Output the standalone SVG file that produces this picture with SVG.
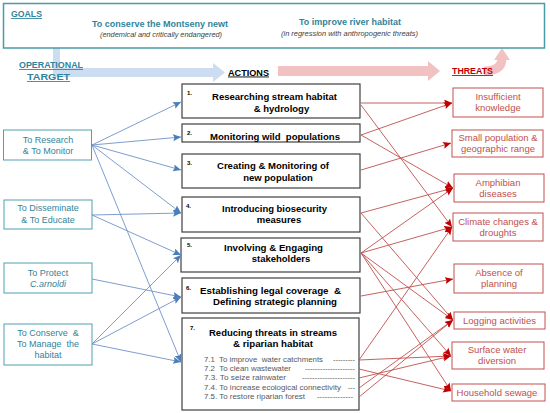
<svg xmlns="http://www.w3.org/2000/svg" width="550" height="413" viewBox="0 0 550 413">
<defs>
<style>
text{font-family:"Liberation Sans",Arial,sans-serif}
.teal{fill:#31849b}
.hd{font-weight:bold;text-decoration:underline}
.sub{font-style:italic;font-size:7px;fill:#404040}
.obox{fill:#fff;stroke:#4f9fb0;stroke-width:1}
.otxt{font-size:9px;fill:#31859c;text-anchor:middle}
.abox{fill:#fff;stroke:#404040;stroke-width:1.2}
.atxt{font-size:9.5px;font-weight:bold;fill:#000;text-anchor:middle}
.num{font-size:6px;font-weight:bold;fill:#000}
.item{font-size:7.5px;fill:#595959}
.tbox{fill:#fff;stroke:#c0504d;stroke-width:1}
.ttxt{font-size:9.5px;fill:#c0504d;text-anchor:middle}
.bl{stroke:#6f93c8;stroke-width:0.9;fill:none;marker-end:url(#ab)}
.rl{stroke:#c0504d;stroke-width:0.9;fill:none;marker-end:url(#ar)}
</style>
<marker id="ab" markerUnits="userSpaceOnUse" markerWidth="9" markerHeight="8" refX="8" refY="3.5" orient="auto"><path d="M0,0 L8,3.5 L0,7 L1.5,3.5 z" fill="#4a7ebb"/></marker>
<marker id="ar" markerUnits="userSpaceOnUse" markerWidth="9" markerHeight="8" refX="8" refY="3.5" orient="auto"><path d="M0,0 L8,3.5 L0,7 L1.5,3.5 z" fill="#c00000"/></marker>
</defs>
<rect width="550" height="413" fill="#fff"/>

<!-- big arrows -->
<g id="flow-arrows">
<polygon points="53,48 60,48 60,68 213,68 213,63 225,72.5 213,82 213,77 53,77" fill="#c6d9f1" opacity="0.9"/>
<polygon points="278,66 428,66 428,61 440,71 428,81 428,76 278,76" fill="#f2c2c2"/>
<path d="M484,71 Q502,71 502,58" stroke="#f2c2c2" stroke-width="9" fill="none"/>
<polygon points="494,60 502,48 510,60" fill="#f2c2c2"/>
</g>

<g id="goals">
<rect x="3.5" y="3.5" width="541" height="44.5" fill="none" stroke="#4a9aa8" stroke-width="1.5"/>
<text x="11" y="17" class="teal hd" font-size="8.7" textLength="31" lengthAdjust="spacingAndGlyphs">GOALS</text>
<text x="160" y="27" class="teal" font-size="9" font-weight="bold" text-anchor="middle" textLength="136" lengthAdjust="spacingAndGlyphs">To conserve the Montseny newt</text>
<text x="161" y="37" class="sub" text-anchor="middle" textLength="122" lengthAdjust="spacingAndGlyphs">(endemical and critically endangered)</text>
<text x="350" y="25" class="teal" font-size="9" font-weight="bold" text-anchor="middle" textLength="102" lengthAdjust="spacingAndGlyphs">To improve river habitat</text>
<text x="349.5" y="36" class="sub" text-anchor="middle" textLength="137" lengthAdjust="spacingAndGlyphs">(in regression with anthropogenic  threats)</text>
</g>

<g id="headers">
<text x="51" y="68" class="teal hd" font-size="8.8" text-anchor="middle" textLength="64" lengthAdjust="spacingAndGlyphs">OPERATIONAL</text>
<text x="48.5" y="80" class="teal hd" font-size="8.8" text-anchor="middle" textLength="43" lengthAdjust="spacingAndGlyphs">TARGET</text>
<text x="248.5" y="75.5" class="hd" font-size="9" fill="#000" text-anchor="middle" textLength="41" lengthAdjust="spacingAndGlyphs">ACTIONS</text>
<text x="472.5" y="74" class="hd" font-size="8.7" fill="#c00000" text-anchor="middle" textLength="41" lengthAdjust="spacingAndGlyphs">THREATS</text>
</g>

<!-- operational targets -->
<g id="target-research"><rect x="3.5" y="130" width="88" height="30" class="obox"/>
<text x="48" y="143" class="otxt">To Research</text><text x="48" y="154" class="otxt">&amp; To Monitor</text></g>
<g id="target-disseminate"><rect x="4" y="200" width="88" height="29" class="obox"/>
<text x="48" y="211" class="otxt">To Disseminate</text><text x="48" y="223" class="otxt">&amp; To Educate</text></g>
<g id="target-protect"><rect x="4" y="263" width="88" height="30" class="obox"/>
<text x="48" y="276" class="otxt">To Protect</text><text x="48" y="287" class="otxt" font-style="italic">C.arnoldi</text></g>
<g id="target-conserve"><rect x="4" y="324" width="88" height="41" class="obox"/>
<text x="48" y="336" class="otxt" xml:space="preserve">To Conserve  &amp;</text><text x="48" y="347" class="otxt" xml:space="preserve">To Manage  the</text><text x="48" y="358" class="otxt">habitat</text></g>

<!-- actions -->
<g id="action-1"><rect x="182" y="84" width="178" height="34" class="abox"/>
<text x="187" y="95" class="num">1.</text>
<text x="274.5" y="100" class="atxt" textLength="125" lengthAdjust="spacingAndGlyphs">Researching stream habitat</text>
<text x="281.5" y="111.5" class="atxt">&amp; hydrology</text></g>
<g id="action-2"><rect x="182" y="124" width="178" height="18" class="abox"/>
<text x="187" y="135" class="num">2.</text>
<text x="275" y="140" class="atxt" textLength="130" lengthAdjust="spacingAndGlyphs" xml:space="preserve">Monitoring wild  populations</text></g>
<g id="action-3"><rect x="182" y="154" width="178" height="34" class="abox"/>
<text x="187" y="165" class="num">3.</text>
<text x="273" y="169" class="atxt" textLength="112" lengthAdjust="spacingAndGlyphs">Creating &amp; Monitoring of</text>
<text x="278" y="181" class="atxt">new population</text></g>
<g id="action-4"><rect x="182" y="197" width="178" height="35" class="abox"/>
<text x="186" y="208" class="num">4.</text>
<text x="274.5" y="212" class="atxt" textLength="105" lengthAdjust="spacingAndGlyphs">Introducing biosecurity</text>
<text x="279" y="223" class="atxt">measures</text></g>
<g id="action-5"><rect x="181" y="238" width="179" height="34" class="abox"/>
<text x="187" y="247" class="num">5.</text>
<text x="273.5" y="251" class="atxt" textLength="99" lengthAdjust="spacingAndGlyphs">Involving &amp; Engaging</text>
<text x="281" y="262" class="atxt">stakeholders</text></g>
<g id="action-6"><rect x="182" y="278" width="178" height="35" class="abox"/>
<text x="186" y="290" class="num">6.</text>
<text x="270.5" y="293.5" class="atxt" font-size="9.8" textLength="141" lengthAdjust="spacingAndGlyphs" xml:space="preserve">Establishing legal coverage  &amp;</text>
<text x="275" y="305" class="atxt" font-size="9.8" textLength="124" lengthAdjust="spacingAndGlyphs">Defining strategic planning</text></g>
<g id="action-7"><rect x="182" y="318" width="177" height="92" class="abox"/>
<text x="190" y="330" class="num">7.</text>
<text x="273" y="335.5" class="atxt" font-size="9.9" textLength="128" lengthAdjust="spacingAndGlyphs">Reducing threats in streams</text>
<text x="273" y="347" class="atxt" font-size="9.9" textLength="80" lengthAdjust="spacingAndGlyphs">&amp; riparian habitat</text>
<text x="204" y="362" class="item" textLength="119" lengthAdjust="spacingAndGlyphs" xml:space="preserve">7.1  To improve  water catchments</text>
<text x="333" y="362" class="item" textLength="22" lengthAdjust="spacingAndGlyphs">---------</text>
<text x="204" y="371" class="item" textLength="87" lengthAdjust="spacingAndGlyphs" xml:space="preserve">7.2  To clean wastewater</text>
<text x="305" y="371" class="item" textLength="50" lengthAdjust="spacingAndGlyphs">--------------------</text>
<text x="204" y="380" class="item" textLength="82" lengthAdjust="spacingAndGlyphs">7.3. To seize rainwater</text>
<text x="302" y="380" class="item" textLength="53" lengthAdjust="spacingAndGlyphs">---------------------</text>
<text x="204" y="390" class="item" textLength="137" lengthAdjust="spacingAndGlyphs">7.4. To increase ecological connectivity</text>
<text x="348" y="390" class="item" textLength="7" lengthAdjust="spacingAndGlyphs">---</text>
<text x="204" y="399" class="item" textLength="101" lengthAdjust="spacingAndGlyphs">7.5. To restore riparian forest</text>
<text x="317" y="399" class="item" textLength="36" lengthAdjust="spacingAndGlyphs">--------------</text></g>

<!-- threats -->
<g id="threat-knowledge"><rect x="453" y="88" width="90" height="29" class="tbox"/>
<text x="498" y="100" class="ttxt">Insufficient</text><text x="498" y="111" class="ttxt">knowledge</text></g>
<g id="threat-population"><rect x="452" y="130" width="91" height="27" class="tbox"/>
<text x="498" y="141" class="ttxt">Small population &amp;</text><text x="498" y="152" class="ttxt">geographic range</text></g>
<g id="threat-diseases"><rect x="454" y="174" width="90" height="28" class="tbox"/>
<text x="498" y="186" class="ttxt">Amphibian</text><text x="498" y="197" class="ttxt">diseases</text></g>
<g id="threat-climate"><rect x="453" y="213" width="90" height="28" class="tbox"/>
<text x="498" y="225" class="ttxt">Climate changes &amp;</text><text x="498" y="236" class="ttxt">droughts</text></g>
<g id="threat-planning"><rect x="454" y="264" width="89" height="29" class="tbox"/>
<text x="499" y="276" class="ttxt">Absence of</text><text x="499" y="287" class="ttxt">planning</text></g>
<g id="threat-logging"><rect x="454" y="312" width="91" height="17" class="tbox"/>
<text x="499.5" y="323.5" class="ttxt">Logging activities</text></g>
<g id="threat-surface"><rect x="452" y="342" width="92" height="27" class="tbox"/>
<text x="497" y="353" class="ttxt">Surface water</text><text x="497" y="364" class="ttxt">diversion</text></g>
<g id="threat-sewage"><rect x="452" y="384" width="93" height="17" class="tbox"/>
<text x="497" y="396" class="ttxt">Household sewage</text></g>

<g id="connectors">
<line x1="92" y1="145" x2="181" y2="102" class="bl"/>
<line x1="92" y1="145" x2="181" y2="137" class="bl"/>
<line x1="92" y1="145" x2="181" y2="170" class="bl"/>
<line x1="92" y1="145" x2="181" y2="213" class="bl"/>
<line x1="92" y1="145" x2="181" y2="362" class="bl"/>
<line x1="92" y1="215" x2="181" y2="213" class="bl"/>
<line x1="92" y1="215" x2="181" y2="255" class="bl"/>
<line x1="92" y1="279" x2="181" y2="297" class="bl"/>
<line x1="92" y1="344" x2="181" y2="255" class="bl"/>
<line x1="92" y1="344" x2="181" y2="297" class="bl"/>
<line x1="92" y1="344" x2="181" y2="362" class="bl"/>

<line x1="361" y1="103" x2="452" y2="103" class="rl"/>
<line x1="361" y1="105" x2="452" y2="227" class="rl"/>
<line x1="361" y1="135" x2="452" y2="103" class="rl"/>
<line x1="361" y1="135" x2="453" y2="188" class="rl"/>
<line x1="361" y1="170" x2="451" y2="143" class="rl"/>
<line x1="361" y1="213" x2="453" y2="188" class="rl"/>
<line x1="361" y1="213" x2="453" y2="320" class="rl"/>
<line x1="361" y1="253" x2="453" y2="188" class="rl"/>
<line x1="361" y1="253" x2="452" y2="227" class="rl"/>
<line x1="361" y1="253" x2="453" y2="320" class="rl"/>
<line x1="361" y1="253" x2="451" y2="356" class="rl"/>
<line x1="361" y1="253" x2="451" y2="391" class="rl"/>
<line x1="361" y1="296" x2="453" y2="279" class="rl"/>
<line x1="359" y1="360" x2="452" y2="227" class="rl"/>
<line x1="359" y1="360" x2="451" y2="356" class="rl"/>
<line x1="359" y1="369" x2="451" y2="391" class="rl"/>
<line x1="359" y1="378" x2="451" y2="356" class="rl"/>
<line x1="359" y1="388" x2="453" y2="320" class="rl"/>
<line x1="359" y1="397" x2="453" y2="320" class="rl"/>
</g>
</svg>
